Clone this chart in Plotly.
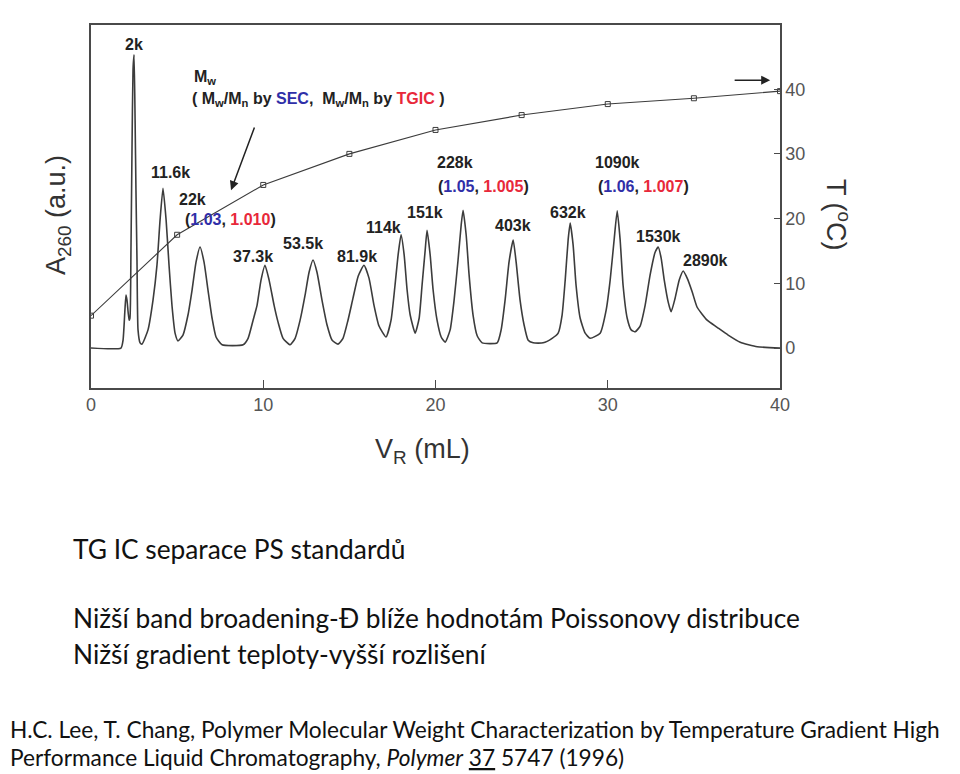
import plotly.graph_objects as go

# ---------------- data ----------------
# Chromatogram trace (V_R in mL, absorbance A260 in a.u.)
vr = [0, 1.74, 1.86, 1.97, 2.03, 2.09, 2.21, 2.26, 2.32, 2.38, 2.44, 2.50, 2.56, 2.61, 2.67, 2.73, 2.85, 2.96,
      3.31, 3.60, 3.83, 4.01, 4.18, 4.36, 4.53, 4.70, 4.88, 5.05,
      5.34, 5.63, 5.87, 6.10, 6.33, 6.56, 6.79, 7.03, 7.26, 7.61, 8.83,
      9.12, 9.41, 9.64, 9.87, 10.10, 10.34, 10.63, 10.86, 11.15, 11.56,
      11.85, 12.14, 12.43, 12.66, 12.89, 13.12, 13.41, 13.70, 14.00, 14.34,
      14.63, 14.92, 15.21, 15.51, 15.85, 16.14, 16.43, 16.72, 17.13,
      17.42, 17.65, 17.83, 18.00, 18.18, 18.35, 18.53, 18.82,
      19.05, 19.22, 19.40, 19.51, 19.69, 19.86, 20.09, 20.33, 20.56,
      20.85, 21.08, 21.31, 21.49, 21.60, 21.78, 21.95, 22.18, 22.42, 22.71, 23.58,
      23.81, 24.04, 24.27, 24.51, 24.68, 24.91, 25.14, 25.38, 25.67, 26.25, 26.77, 27.12,
      27.35, 27.53, 27.70, 27.82, 27.99, 28.16, 28.40, 28.69, 28.98,
      29.56, 29.91, 30.14, 30.37, 30.55, 30.72, 30.89, 31.13, 31.36, 31.59,
      31.88, 32.17, 32.46, 32.75, 32.93, 33.10, 33.28, 33.51, 33.68,
      33.91, 34.15, 34.38, 34.61, 34.90, 35.19, 35.77, 36.35, 36.99, 37.69, 38.68, 40.0]
a260 = [0, 0, 1.2, 5.9, 8.2, 7.4, 4.3, 4.6, 15.1, 30.6, 43.0, 45.3, 35.2, 24.4, 13.6, 2.8, 0.8, 0.6,
        2.8, 7.4, 12.8, 19.8, 24.7, 19.8, 12.8, 6.6, 2.3, 1.1,
        2.0, 5.1, 9.0, 13.3, 15.6, 13.3, 9.0, 4.6, 1.7, 0.5, 0.5,
        1.5, 4.3, 6.6, 10.5, 12.8, 10.5, 6.6, 4.0, 1.5, 0.5,
        1.5, 4.3, 8.2, 11.7, 13.6, 11.7, 7.4, 3.6, 1.2, 0.6,
        1.5, 4.3, 7.7, 11.1, 12.8, 10.8, 6.6, 3.4, 1.7,
        4.3, 9.7, 14.4, 17.5, 14.4, 9.0, 5.1, 2.3,
        4.6, 9.7, 15.1, 18.2, 14.4, 9.0, 4.3, 1.7, 0.9,
        2.8, 7.4, 13.6, 19.0, 21.3, 17.5, 11.3, 5.1, 1.9, 0.8, 0.8,
        2.8, 7.4, 13.3, 16.7, 13.3, 7.4, 3.6, 1.2, 0.8, 0.8, 1.5, 2.3,
        5.1, 10.5, 16.7, 19.3, 15.9, 9.7, 4.6, 2.3, 1.5,
        2.3, 5.9, 10.5, 16.7, 21.2, 16.7, 9.7, 4.6, 2.8, 2.5,
        3.4, 6.6, 11.3, 14.8, 15.6, 13.9, 10.5, 7.1, 5.6,
        7.7, 10.5, 11.9, 10.8, 8.7, 6.3, 4.3, 3.2, 2.0, 0.9, 0.2, 0]

# Temperature program
t_vr = [0, 5, 10, 15, 20, 25, 30, 35, 40]
t_deg = [5.0, 17.5, 25.2, 30.0, 33.7, 36.0, 37.7, 38.6, 39.7]

# Peak labels
peak_labels = ["2k", "11.6k", "22k", "37.3k", "53.5k", "81.9k", "114k", "151k",
               "228k", "403k", "632k", "1090k", "1530k", "2890k"]
# Dispersity pairs (SEC, TGIC)
disp_sec = ["1.03", "1.05", "1.06"]
disp_tgic = ["1.010", "1.005", "1.007"]

x_ticks = [0, 10, 20, 30, 40]
t_ticks = [0, 10, 20, 30, 40, 50]

body_lines = ["TG IC separace PS standardů",
              "Nižší band broadening-Đ blíže hodnotám Poissonovy distribuce",
              "Nižší gradient teploty-vyšší rozlišení"]
cite_lines = ["H.C. Lee, T. Chang, Polymer Molecular Weight Characterization by Temperature Gradient High",
              "Performance Liquid Chromatography, <i>Polymer</i> <span style='text-decoration:underline'>37</span> 5747 (1996)"]

# ---------------- layout helpers ----------------
# page offset of the figure (default body margin of the html page)
OFF = 8
W, H = 960 - OFF, 774 - OFF
L, R, T, B = 91, 780, 25, 388   # plot box in page pixels
YR = [-6.18, 49.92]


def px(xp):
    return (xp - L) / (R - L)


def py(yp):
    return (B - yp) / (B - T)


AX = "#4a4a4a"
BLUE = "#2f2fa8"
RED = "#e8283a"
LAB = dict(family="Liberation Sans", size=16, color="#222")

fig = go.Figure()
fig.add_trace(go.Scatter(x=vr, y=a260, mode="lines",
                         line=dict(color="#3c3c3c", width=1.6, shape="spline", smoothing=0.5),
                         hoverinfo="skip", showlegend=False))
fig.add_trace(go.Scatter(x=t_vr, y=t_deg, mode="lines+markers", yaxis="y2",
                         line=dict(color="#3c3c3c", width=1.1),
                         marker=dict(symbol="square-open", size=5, color="#3c3c3c", line=dict(width=1)),
                         showlegend=False))

ann = []
lab_pos = [(2.50, 46.9), (4.59, 27.2), (5.92, 23.0), (9.41, 14.1), (12.31, 16.2), (15.45, 14.2), (16.96, 18.7),
           (19.40, 20.9), (21.14, 28.6), (24.51, 18.9), (27.70, 21.0), (30.55, 28.6), (32.93, 17.3), (35.66, 13.6)]
for t, (x, y) in zip(peak_labels, lab_pos):
    ann.append(dict(x=x, y=y, xref="x", yref="y2", xanchor="center", yanchor="middle",
                    text="<b>%s</b>" % t, showarrow=False, font=LAB))
disp_pos = [(8.10, 19.9), (22.76, 25.0), (32.06, 25.0)]
for s, g, (x, y) in zip(disp_sec, disp_tgic, disp_pos):
    ann.append(dict(x=x, y=y, xref="x", yref="y2", xanchor="center", yanchor="middle", showarrow=False,
                    text="<b>(<span style='color:%s'>%s</span>, <span style='color:%s'>%s</span>)</b>" % (BLUE, s, RED, g),
                    font=LAB))

# legend-like note
ann.append(dict(x=px(192), y=py(77), xref="paper", yref="paper", xanchor="left", yanchor="middle",
                showarrow=False, text="<b>M<sub>w</sub></b>", font=LAB))
ann.append(dict(x=px(190), y=py(100), xref="paper", yref="paper", xanchor="left", yanchor="middle",
                showarrow=False,
                text="<b>( M<sub>w</sub>/M<sub>n</sub> by <span style='color:%s'>SEC</span>,  M<sub>w</sub>/M<sub>n</sub> by <span style='color:%s'>TGIC</span> )</b>" % (BLUE, RED),
                font=LAB))
# arrows
ann.append(dict(x=8.13, y=24.4, ax=9.52, ay=34.3, xref="x", yref="y2", axref="x", ayref="y2",
                showarrow=True, arrowhead=2, arrowsize=1.2, arrowwidth=1.5, arrowcolor="#222", text=""))
ann.append(dict(x=39.43, y=41.4, ax=37.28, ay=41.4, xref="x", yref="y2", axref="x", ayref="y2",
                showarrow=True, arrowhead=2, arrowsize=1.2, arrowwidth=1.5, arrowcolor="#222", text=""))

# axis titles
TF = dict(family="Liberation Sans", size=27, color="#333")
ann.append(dict(x=px(422), y=py(451), xref="paper", yref="paper", xanchor="center", yanchor="middle",
                showarrow=False, text="V<sub>R</sub> (mL)", font=TF))
ann.append(dict(x=px(58), y=py(215), xref="paper", yref="paper", xanchor="center", yanchor="middle",
                showarrow=False, textangle=-90, text="A<sub>260</sub> (a.u.)", font=TF))
ann.append(dict(x=px(838), y=py(215), xref="paper", yref="paper", xanchor="center", yanchor="middle",
                showarrow=False, textangle=90, text="T (<sup>o</sup>C)", font=TF))

# text below
for t, yp in zip(body_lines, [549, 618, 654]):
    ann.append(dict(x=px(71), y=py(yp), xref="paper", yref="paper", xanchor="left", yanchor="middle",
                    showarrow=False, text=t, font=dict(family="Lato", size=26.3, color="#111")))
for t, yp in zip(cite_lines, [729, 757]):
    ann.append(dict(x=px(OFF), y=py(yp), xref="paper", yref="paper", xanchor="left", yanchor="middle",
                    showarrow=False, text=t, font=dict(family="Lato", size=22.7, color="#111")))

fig.update_layout(
    width=W, height=H, margin=dict(l=L - OFF, r=960 - R, t=T - OFF, b=774 - B),
    paper_bgcolor="white", plot_bgcolor="white",
    annotations=ann, showlegend=False,
    xaxis=dict(range=[0, 40], tickvals=x_ticks, ticks="inside", ticklen=8, tickcolor=AX,
               showline=True, linecolor=AX, linewidth=1.5, mirror=True, showgrid=False, zeroline=False,
               tickfont=dict(family="Liberation Sans", size=18, color="#555")),
    yaxis=dict(range=YR, showticklabels=False, ticks="", showline=True, linecolor=AX, linewidth=1.5,
               showgrid=False, zeroline=False),
    yaxis2=dict(range=YR, overlaying="y", side="right", tickvals=t_ticks, ticks="inside", ticklen=6,
                tickcolor=AX, showline=True, linecolor=AX, linewidth=1.5, showgrid=False, zeroline=False,
                tickfont=dict(family="Liberation Sans", size=18, color="#555")),
)

fig.write_html("out.html")
